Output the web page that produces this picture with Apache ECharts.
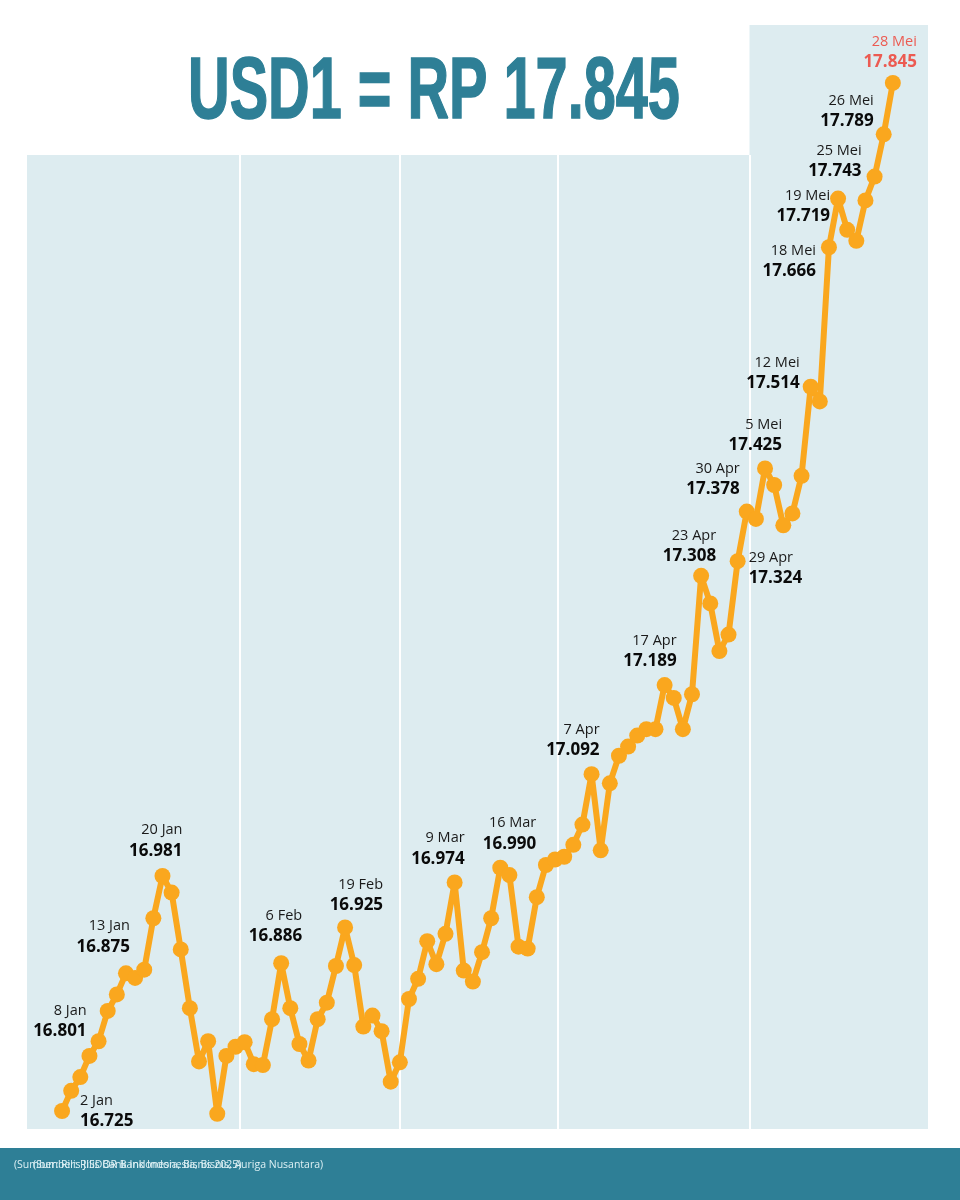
<!DOCTYPE html>
<html><head><meta charset="utf-8">
<style>html,body{margin:0;padding:0;background:#fff}#c{width:960px;height:1200px}</style>
<script src="https://cdn.jsdelivr.net/npm/echarts@6/dist/echarts.min.js"></script>
</head><body><div id="c"></div>
<script>
const rupiah = [16725,16747,16762,16785,16801,16834,16852,16875,16870,16879,16935,16981,16963,16901,16837,16779,16801,16722,16785,16795,16800,16776,16775,16825,16886,16837,16798,16780,16825,16843,16883,16925,16884,16817,16829,16812,16757,16778,16847,16869,16910,16885,16918,16974,16878,16866,16898,16935,16990,16982,16904,16902,16958,16993,16999,17002,17015,17037,17092,17009,17082,17112,17122,17134,17141,17141,17189,17175,17141,17179,17308,17278,17226,17244,17324,17378,17370,17425,17407,17363,17376,17417,17514,17498,17666,17719,17685,17673,17717,17743,17789,17845];
const labelIndex = [0,4,7,11,24,31,43,48,58,66,70,74,75,77,82,84,85,89,90,91];
const labelDates = ['2 Jan','8 Jan','13 Jan','20 Jan','6 Feb','19 Feb','9 Mar','16 Mar','7 Apr','17 Apr','23 Apr','29 Apr','30 Apr','5 Mei','12 Mei','18 Mei','19 Mei','25 Mei','26 Mei','28 Mei'];
const monthEdges = [19.5,37.0,54.3,75.3];
const titleText = 'USD1 = RP 17.845';
const sourceA = '(Sumber: Rilis JISDOR Bank Indonesia, Bisnis, Auriga Nusantara)';
const sourceB = '(Sumber: Rilis Bank Indonesia, Bisnis 2025)';

const labelPlacement = [
 ['left',18,0],['right',-12,-20],['right',4,-36.9],['right',20,-35.6],['right',21,-37.4],
 ['right',38,-32.5],['right',10,-34],['right',36,-34.2],['right',8,-34.5],['right',12,-33.7],
 ['right',15,-30],['left',11,7],['right',-7,-32.2],['right',17,-33.3],['right',-11,-14],
 ['right',-13,14],['right',-8,7.4],['right',-13,-15.2],['right',-10,-23.3],['right',24,-31]
];
const fmt = v => { const s = String(v); return s.slice(0,2)+'.'+s.slice(2); };
const TEAL = '#2E7F96', PANEL = '#DDECF0', LINE = '#FAA71E', RED = '#EC5B52', LOGO = '#4FB3CE', DOT = '#F0B84A';
const xMin = -3.84, xMax = 94.85, yMin = 16705.4, yMax = 17908.1, panelTop = 17766.5;

const points = rupiah.map((v,i) => {
  const k = labelIndex.indexOf(i);
  const item = {value:[i,v]};
  if (k >= 0) {
    const last = i === rupiah.length-1;
    const [al,dx,dy] = labelPlacement[k];
    item.label = {show:true, position:'inside', align:al, verticalAlign:'middle', offset:[dx,dy],
      formatter:`{d|${labelDates[k]}}\n{v|${fmt(v)}}`,
      rich:{
        d:{fontFamily:'Open Sans',fontSize:14.5,lineHeight:20.5,color:last?RED:'#1a1a1a',align:al},
        v:{fontFamily:'Open Sans',fontSize:17,fontWeight:'bold',lineHeight:20.5,color:last?RED:'#0a0a0a',align:al}
      }};
  }
  return item;
});

const chart = echarts.init(document.getElementById('c'), null, {renderer:'canvas'});
chart.setOption({
  animation:false,
  backgroundColor:'#fff',
  grid:{left:27,right:32,top:25,bottom:71,containLabel:false},
  xAxis:{type:'value',min:xMin,max:xMax,show:false},
  yAxis:{type:'value',min:yMin,max:yMax,show:false},
  series:[{
    type:'line',z:3,data:points,symbol:'circle',symbolSize:16,showSymbol:true,showAllSymbols:true,
    lineStyle:{color:LINE,width:6},itemStyle:{color:LINE},clip:false,
    markArea:{silent:true,z:0,itemStyle:{color:PANEL},data:[
      [{coord:[xMin,yMin]},{coord:[monthEdges[3],panelTop]}],
      [{coord:[monthEdges[3],yMin]},{coord:[xMax,yMax]}]
    ]},
    markLine:{silent:true,z:1,symbol:'none',label:{show:false},lineStyle:{color:'#fff',width:2,type:'solid'},
      data:monthEdges.map(e=>[{coord:[e,yMin]},{coord:[e,panelTop]}])}
  }],
  graphic:[
    {type:'rect',silent:true,shape:{x:0,y:1148,width:960,height:52},style:{fill:TEAL}},
    {type:'text',silent:true,x:14,y:1160,style:{text:sourceA,fontFamily:'Open Sans',fontSize:10.5,fill:'#DDF0F4'}},
    {type:'text',silent:true,x:33,y:1160,style:{text:sourceB,fontFamily:'Open Sans',fontSize:10.5,fill:'#DDF0F4'}},
    {type:'text',silent:true,x:188,y:50,scaleX:0.655,style:{text:titleText,fontFamily:'Liberation Sans',fontWeight:'bold',fontSize:88,fill:TEAL,stroke:TEAL,lineWidth:1.5}},
    {type:'circle',silent:true,shape:{cx:53,cy:186.5,r:5},style:{fill:DOT,stroke:LOGO,lineWidth:3.5}},
    {type:'circle',silent:true,shape:{cx:62,cy:186.5,r:5},style:{fill:DOT,stroke:LOGO,lineWidth:3.5}},
    {type:'rect',silent:true,shape:{x:46.5,y:184,width:3.5,height:12.5,r:1.5},style:{fill:LOGO}},
    {type:'rect',silent:true,shape:{x:65,y:174,width:3.5,height:18,r:1.5},style:{fill:LOGO}},
    {type:'text',silent:true,x:70,y:172,style:{text:'perupadata',fontFamily:'Lato',fontSize:17,fill:LOGO}}
  ]
});
</script></body></html>
